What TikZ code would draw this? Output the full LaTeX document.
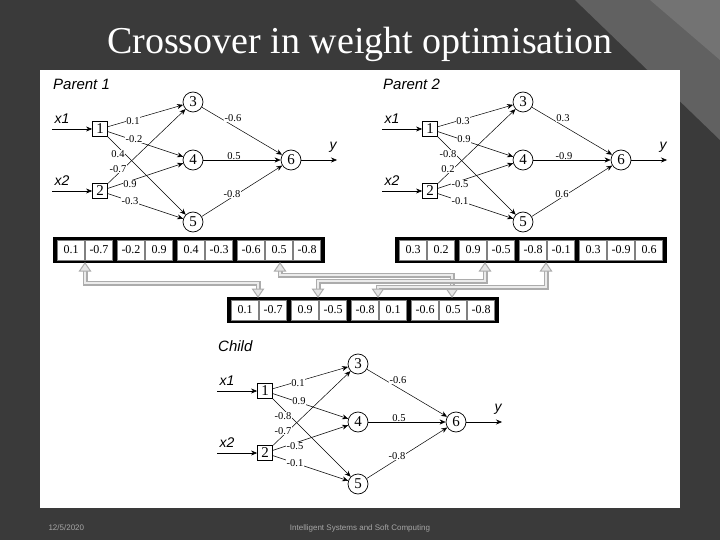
\documentclass[tikz,border=0pt]{standalone}
\usepackage{fontspec}
\setmainfont{Liberation Serif}
\newfontfamily\arial{Liberation Sans}
\usetikzlibrary{arrows.meta}
\definecolor{slide}{RGB}{58,58,58}
\tikzset{
 neu/.style={circle,draw,line width=0.7,minimum size=20,inner sep=0,font=\fontsize{15}{15}\selectfont},
 inbox/.style={rectangle,draw,line width=0.8,minimum size=15,inner sep=0,font=\fontsize{15}{15}\selectfont},
 edge/.style={-{Stealth[length=6,width=5]},line width=0.5},
 wlab/.style={fill=white,inner sep=0.6,font=\fontsize{10.5}{10.5}\selectfont},
 vlab/.style={font=\arial\itshape\fontsize{14}{14}\selectfont,inner sep=0},
 cell/.style={draw=gray,fill=white,minimum width=27,minimum height=20,inner sep=0,font=\fontsize{12}{12}\selectfont},
 gout/.style={line width=5,gray!65},
 gin/.style={line width=2.4,gray!15},
 ghead/.style={fill=gray!20,draw=gray!65,line width=1}
}
\newcommand\mynet[9]{%
 \node[inbox] (\pre1) at (100,129) {1};
 \node[inbox] (\pre2) at (100,191) {2};
 \node[neu] (\pre3) at (193,102) {3};
 \node[neu] (\pre4) at (193,160) {4};
 \node[neu] (\pre5) at (193,222) {5};
 \node[neu] (\pre6) at (291,160) {6};
 \coordinate (\pre i1) at (52,129);
 \coordinate (\pre i2) at (52,191);
 \coordinate (\pre o) at (337,160);
 \draw[edge] (\pre i1) -- (\pre1);
 \draw[edge] (\pre i2) -- (\pre2);
 \draw[edge] (\pre6) -- (\pre o);
 \foreach \a in {1,2}{\foreach \b in {3,4,5}{\draw[edge] (\pre\a) -- (\pre\b);}}
 \foreach \b in {3,4,5}{\draw[edge] (\pre\b) -- (\pre6);}
 \node[vlab] (\pre lx1) at (62,119) {x1};
 \node[vlab] (\pre lx2) at (62,181) {x2};
 \node[vlab] (\pre ly) at (333,147) {y};
 \node[vlab,anchor=west,font=\arial\itshape\fontsize{15}{15}\selectfont] (\pre lab) at (53,84) {\lab};
 \node[wlab] (\pre w13) at (133,121) {#1};
 \node[wlab] (\pre w14) at (134,139) {#2};
 \node[wlab] (\pre w15) at (118,154) {#3};
 \node[wlab] (\pre w23) at (118,169) {#4};
 \node[wlab] (\pre w24) at (130,184) {#5};
 \node[wlab] (\pre w25) at (130,201) {#6};
 \node[wlab] (\pre w36) at (233,118) {#7};
 \node[wlab] (\pre w46) at (234,156) {#8};
 \node[wlab] (\pre w56) at (232,194) {#9};
}
\newcommand\arr[4]{%
 \fill[black] (#2-4,#3-3) rectangle (#2+268,#3+23);
 \foreach \v [count=\i] in {#4}{%
  \pgfmathsetmacro\o{28*(\i-1)+4*min(floor((\i-1)/2),3)+14}
  \node[cell] (#1-\i) at (#2+\o,#3+10) {\v};}
}
\begin{document}
\begin{tikzpicture}[x=1pt,y=-1pt]
\useasboundingbox (0,0) rectangle (720,540);
\fill[slide] (0,0) rectangle (720,540);
\fill[black!62] (575,0) -- (720,0) -- (720,140) -- cycle;
\fill[black!55] (650,0) -- (720,0) -- (720,60) -- cycle;
\node[text=white,font=\fontsize{38}{38}\selectfont] (title) at (360,44) {Crossover in weight optimisation};
\fill[white] (40,70) rectangle (680,508);
\node[anchor=west,text=gray!70,font=\arial\fontsize{8}{8}\selectfont] (date) at (45,528) {12/5/2020};
\node[text=gray!70,font=\arial\fontsize{8}{8}\selectfont] (foot) at (360,528) {Intelligent Systems and Soft Computing};

\begin{scope}\def\pre{a}\def\lab{Parent 1}
\mynet{0.1}{-0.2}{0.4}{-0.7}{0.9}{-0.3}{-0.6}{0.5}{-0.8}
\end{scope}
\begin{scope}[shift={(330,0)}]\def\pre{b}\def\lab{Parent 2}
\mynet{0.3}{0.9}{-0.8}{0.2}{-0.5}{-0.1}{0.3}{-0.9}{0.6}
\end{scope}
\begin{scope}[shift={(165,262)}]\def\pre{c}\def\lab{Child}
\mynet{0.1}{0.9}{-0.8}{-0.7}{-0.5}{-0.1}{-0.6}{0.5}{-0.8}
\end{scope}

\arr{pa}{57}{240}{0.1,-0.7,-0.2,0.9,0.4,-0.3,-0.6,0.5,-0.8}
\arr{pb}{399}{240}{0.3,0.2,0.9,-0.5,-0.8,-0.1,0.3,-0.9,0.6}
\arr{ch}{231}{300}{0.1,-0.7,0.9,-0.5,-0.8,0.1,-0.6,0.5,-0.8}

\foreach \s/\hy/\e in {85/283/258, 280/275/452, 485/281/318, 546/287/378}{
 \draw[gout] (\s,270) |- (\e,\hy) -- (\e,289);
 \draw[gin] (\s,270) |- (\e,\hy) -- (\e,289);
 \draw[ghead] (\s,263) -- (\s-5.5,271) -- (\s+5.5,271) -- cycle;
 \draw[ghead] (\e,297) -- (\e-5.5,289) -- (\e+5.5,289) -- cycle;
}
\end{tikzpicture}
\end{document}
